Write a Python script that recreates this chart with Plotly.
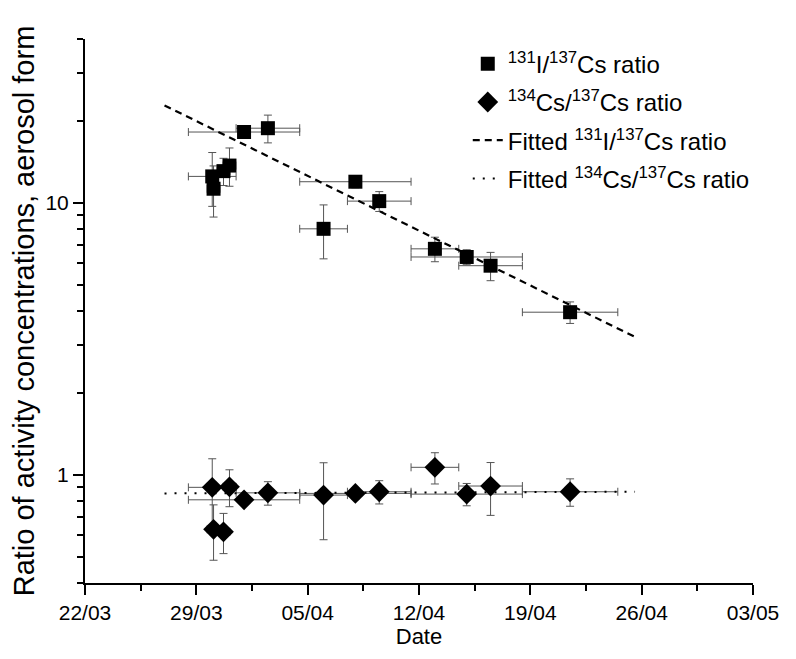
import plotly.graph_objects as go
import pandas as pd

# ---------------- data ----------------
origin = "2011-03-22"
sample_dates = ["2011-03-30 00:00", "2011-03-30 02:00", "2011-03-30 17:00", "2011-03-31 02:00",
                "2011-04-01 00:00", "2011-04-02 12:00", "2011-04-06 00:00", "2011-04-08 00:00",
                "2011-04-09 12:00", "2011-04-13 00:00", "2011-04-15 00:00", "2011-04-16 12:00",
                "2011-04-21 12:00"]
sample_halfwidth_days = [1.5, 0.4, 0.4, 0.4, 3.5, 2.0, 1.5, 3.5, 2.0, 1.5, 3.5, 2.0, 3.0]
i131_cs137 = [12.5, 11.26, 13.07, 13.7, 18.2, 18.8, 8.02, 11.95, 10.14, 6.77, 6.32, 5.87, 3.96]
i131_cs137_err = [2.8, 2.4, 1.5, 2.2, 0.8, 2.2, 1.8, 0.6, 0.85, 0.7, 0.4, 0.7, 0.36]
cs134_cs137 = [0.899, 0.630, 0.617, 0.903, 0.809, 0.858, 0.842, 0.854, 0.866, 1.065, 0.849, 0.909, 0.866]
cs134_cs137_err = [0.246, 0.145, 0.104, 0.14, 0.03, 0.085, 0.265, 0.04, 0.085, 0.14, 0.08, 0.2, 0.1]
fit_dates = ["2011-03-27 00:00", "2011-04-25 14:00"]
fit_i131_cs137 = [22.8, 3.21]
fit_cs134_cs137 = [0.854, 0.866]
tick_labels = ["22/03", "29/03", "05/04", "12/04", "19/04", "26/04", "03/05"]

t0 = pd.Timestamp(origin)


def to_days(dates):
    return [(pd.Timestamp(d) - t0).total_seconds() / 86400.0 for d in dates]


def label_days(labels):
    return [(pd.Timestamp(f"2011-{l[3:5]}-{l[0:2]}") - t0).total_seconds() / 86400.0 for l in labels]


x_s = to_days(sample_dates)
x_fit = to_days(fit_dates)
tick_vals = label_days(tick_labels)

FONT = "Liberation Sans, Arial, sans-serif"
ERRC = "#555555"

fig = go.Figure()
fig.add_trace(go.Scatter(
    x=x_s, y=i131_cs137, mode="markers",
    name="<sup>131</sup>I/<sup>137</sup>Cs ratio", legendgroup="a",
    marker=dict(symbol="square", size=14, color="black", line=dict(width=0)),
    error_x=dict(type="data", array=sample_halfwidth_days, color=ERRC, thickness=1, width=4),
    error_y=dict(type="data", array=i131_cs137_err, color=ERRC, thickness=1, width=4),
))
fig.add_trace(go.Scatter(
    x=x_s, y=cs134_cs137, mode="markers",
    name="<sup>134</sup>Cs/<sup>137</sup>Cs ratio", legendgroup="b",
    marker=dict(symbol="diamond", size=16, color="black", line=dict(width=0)),
    error_x=dict(type="data", array=sample_halfwidth_days, color=ERRC, thickness=1, width=4),
    error_y=dict(type="data", array=cs134_cs137_err, color=ERRC, thickness=1, width=4),
))
fig.add_trace(go.Scatter(
    x=x_fit, y=fit_i131_cs137, mode="lines",
    name="Fitted <sup>131</sup>I/<sup>137</sup>Cs ratio", legendgroup="c",
    line=dict(color="black", width=2.2, dash="7px,5px"),
))
fig.add_trace(go.Scatter(
    x=x_fit, y=fit_cs134_cs137, mode="lines",
    name="Fitted <sup>134</sup>Cs/<sup>137</sup>Cs ratio", legendgroup="d",
    line=dict(color="black", width=2, dash="2px,8px"),
))

fig.update_layout(
    width=796, height=659,
    margin=dict(l=74, r=51, t=31, b=84),
    paper_bgcolor="white", plot_bgcolor="white",
    font=dict(family=FONT, size=21, color="black"),
    showlegend=True,
    legend=dict(x=0.573, y=0.995, xanchor="left", yanchor="top",
                bgcolor="rgba(0,0,0,0)", borderwidth=0,
                font=dict(family=FONT, size=24, color="black"),
                tracegroupgap=4, traceorder="grouped"),
)
fig.update_xaxes(
    range=[tick_vals[0], tick_vals[-1]],
    tickmode="array", tickvals=tick_vals, ticktext=tick_labels,
    ticks="outside", ticklen=10, tickwidth=1.5, tickcolor="black",
    showline=True, linecolor="black", linewidth=2, mirror=False,
    showgrid=False, zeroline=False,
    minor=dict(tickmode="linear", tick0=3.5, dtick=7, ticks="outside", ticklen=6,
               tickwidth=1.5, tickcolor="black", showgrid=False),
    title=dict(text="Date", font=dict(family=FONT, size=22), standoff=0),
    tickfont=dict(family=FONT, size=21),
)
fig.update_yaxes(
    type="log", range=[-0.39794, 1.60206],
    tickmode="array", tickvals=[1, 10], ticktext=["1", "10"],
    ticks="outside", ticklen=10, tickwidth=1.5, tickcolor="black",
    showline=True, linecolor="black", linewidth=2, mirror=False,
    showgrid=False, zeroline=False,
    minor=dict(tickmode="array",
               tickvals=[0.4, 0.5, 0.6, 0.7, 0.8, 0.9, 2, 3, 4, 5, 6, 7, 8, 9, 20, 30, 40],
               ticks="outside", ticklen=6, tickwidth=1.5, tickcolor="black", showgrid=False),
    title=dict(text="Ratio of activity concentrations, aerosol form",
               font=dict(family=FONT, size=29), standoff=5),
    tickfont=dict(family=FONT, size=21),
)

fig.write_html("out.html")
